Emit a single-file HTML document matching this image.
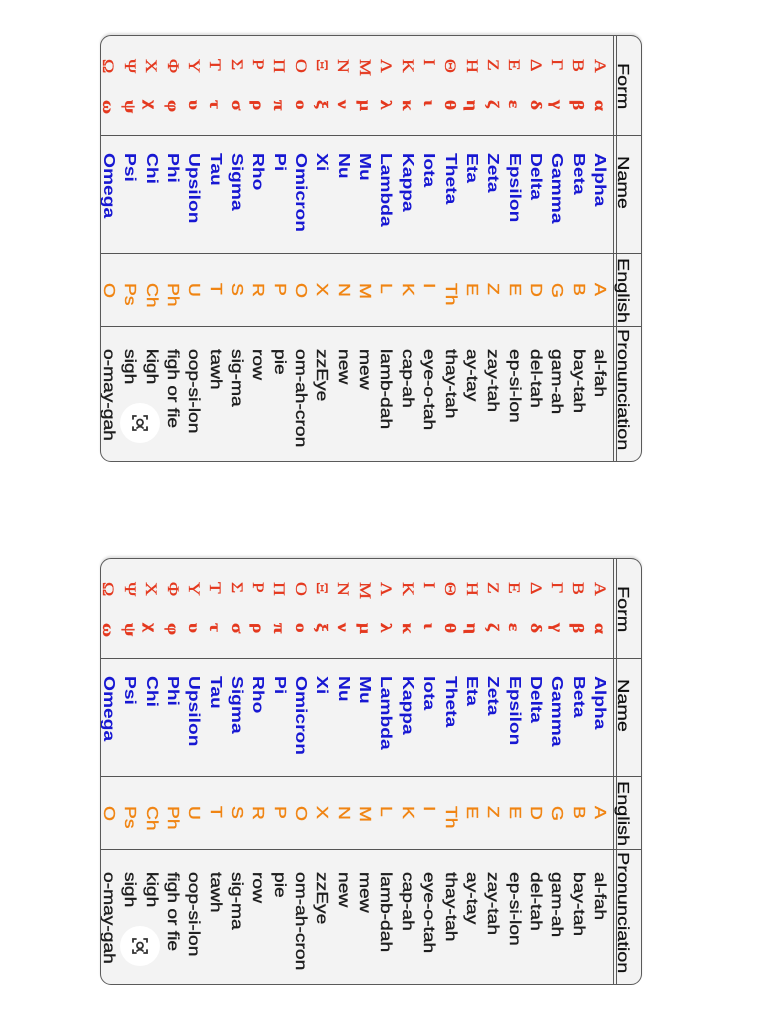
<!DOCTYPE html>
<html>
<head>
<meta charset="utf-8">
<style>
  html, body { margin:0; padding:0; background:#ffffff; }
  body { width:768px; height:1024px; position:relative; overflow:hidden; }
  .card {
    position:absolute; left:0; top:0;
    width:427px; height:542px;
    transform-origin:0 0;
    background:#f3f3f3;
    border:1.5px solid #5a5a5a;
    border-radius:11px;
    box-sizing:border-box;
    box-shadow: -2px 0 2px rgba(0,0,0,0.12);
    overflow:hidden;
    font-family:"Liberation Sans", Arial, sans-serif;
  }
  .c1 { transform: translate(642px,35px) rotate(90deg); }
  .c2 { transform: translate(642px,558px) rotate(90deg); }
  .hline1 { position:absolute; left:0; right:0; top:24px; height:1.2px; background:#5a5a5a; }
  .hline2 { position:absolute; left:0; right:0; top:27.2px; height:1.2px; background:#5a5a5a; }
  .vline { position:absolute; top:0; bottom:0; width:1.4px; background:#555; }
  .hd {
    position:absolute; top:10.5px; font-size:16px; line-height:16px; color:#111;
    white-space:pre; transform:scaleX(1.24); transform-origin:0 0;
    -webkit-text-stroke:0.25px #111;
  }
  .col {
    position:absolute; top:30.95px; font-size:15.5px; line-height:21.36px;
    white-space:pre; transform:scaleX(1.24); transform-origin:0 0;
  }
  .gk {
    position:absolute; top:31.25px; font-size:15.5px; line-height:21.36px;
    white-space:pre; color:#e4381e;
    font-family:"Liberation Serif", "DejaVu Serif", serif;
    transform:scaleX(1.24); transform-origin:0 0;
    -webkit-text-stroke:0.3px #e4381e;
  }
  .name { color:#1717d2; font-weight:bold; }
  .eng { color:#f08412; -webkit-text-stroke:0.35px #f08412; }
  .pron { color:#1e1e1e; -webkit-text-stroke:0.35px #1e1e1e; }
  .mag {
    position:absolute; width:40px; height:40px; border-radius:50%;
    background:#ffffff;
  }
</style>
</head>
<body>

<div class="card c1">
  <div class="hline1"></div><div class="hline2"></div>
  <div class="vline" style="left:98.5px"></div>
  <div class="vline" style="left:216.5px"></div>
  <div class="vline" style="left:289.5px"></div>
  <div class="hd" style="left:27px">Form</div>
  <div class="hd" style="left:120px">Name</div>
  <div class="hd" style="left:222px">English</div>
  <div class="hd" style="left:293px">Pronunciation</div>
  <div class="gk" style="left:23px">Α<br>Β<br>Γ<br>Δ<br>Ε<br>Ζ<br>Η<br>Θ<br>Ι<br>Κ<br>Λ<br>Μ<br>Ν<br>Ξ<br>Ο<br>Π<br>Ρ<br>Σ<br>Τ<br>Υ<br>Φ<br>Χ<br>Ψ<br>Ω</div>
  <div class="gk" style="left:64px;font-weight:bold">α<br>β<br>γ<br>δ<br>ε<br>ζ<br>η<br>θ<br>ι<br>κ<br>λ<br>μ<br>ν<br>ξ<br>ο<br>π<br>ρ<br>σ<br>τ<br>υ<br>φ<br>χ<br>ψ<br>ω</div>
  <div class="col name" style="left:117px">Alpha<br>Beta<br>Gamma<br>Delta<br>Epsilon<br>Zeta<br>Eta<br>Theta<br>Iota<br>Kappa<br>Lambda<br>Mu<br>Nu<br>Xi<br>Omicron<br>Pi<br>Rho<br>Sigma<br>Tau<br>Upsilon<br>Phi<br>Chi<br>Psi<br>Omega</div>
  <div class="col eng" style="left:247px">A<br>B<br>G<br>D<br>E<br>Z<br>E<br>Th<br>I<br>K<br>L<br>M<br>N<br>X<br>O<br>P<br>R<br>S<br>T<br>U<br>Ph<br>Ch<br>Ps<br>O</div>
  <div class="col pron" style="left:313px">al-fah<br>bay-tah<br>gam-ah<br>del-tah<br>ep-si-lon<br>zay-tah<br>ay-tay<br>thay-tah<br>eye-o-tah<br>cap-ah<br>lamb-dah<br>mew<br>new<br>zzEye<br>om-ah-cron<br>pie<br>row<br>sig-ma<br>tawh<br>oop-si-lon<br>figh or fie<br>kigh<br>sigh<br>o-may-gah</div>
</div>

<div class="card c2">
  <div class="hline1"></div><div class="hline2"></div>
  <div class="vline" style="left:98.5px"></div>
  <div class="vline" style="left:216.5px"></div>
  <div class="vline" style="left:289.5px"></div>
  <div class="hd" style="left:27px">Form</div>
  <div class="hd" style="left:120px">Name</div>
  <div class="hd" style="left:222px">English</div>
  <div class="hd" style="left:293px">Pronunciation</div>
  <div class="gk" style="left:23px">Α<br>Β<br>Γ<br>Δ<br>Ε<br>Ζ<br>Η<br>Θ<br>Ι<br>Κ<br>Λ<br>Μ<br>Ν<br>Ξ<br>Ο<br>Π<br>Ρ<br>Σ<br>Τ<br>Υ<br>Φ<br>Χ<br>Ψ<br>Ω</div>
  <div class="gk" style="left:64px;font-weight:bold">α<br>β<br>γ<br>δ<br>ε<br>ζ<br>η<br>θ<br>ι<br>κ<br>λ<br>μ<br>ν<br>ξ<br>ο<br>π<br>ρ<br>σ<br>τ<br>υ<br>φ<br>χ<br>ψ<br>ω</div>
  <div class="col name" style="left:117px">Alpha<br>Beta<br>Gamma<br>Delta<br>Epsilon<br>Zeta<br>Eta<br>Theta<br>Iota<br>Kappa<br>Lambda<br>Mu<br>Nu<br>Xi<br>Omicron<br>Pi<br>Rho<br>Sigma<br>Tau<br>Upsilon<br>Phi<br>Chi<br>Psi<br>Omega</div>
  <div class="col eng" style="left:247px">A<br>B<br>G<br>D<br>E<br>Z<br>E<br>Th<br>I<br>K<br>L<br>M<br>N<br>X<br>O<br>P<br>R<br>S<br>T<br>U<br>Ph<br>Ch<br>Ps<br>O</div>
  <div class="col pron" style="left:313px">al-fah<br>bay-tah<br>gam-ah<br>del-tah<br>ep-si-lon<br>zay-tah<br>ay-tay<br>thay-tah<br>eye-o-tah<br>cap-ah<br>lamb-dah<br>mew<br>new<br>zzEye<br>om-ah-cron<br>pie<br>row<br>sig-ma<br>tawh<br>oop-si-lon<br>figh or fie<br>kigh<br>sigh<br>o-may-gah</div>
</div>

<div class="mag" style="left:120px;top:403px">
  <svg width="40" height="40" viewBox="0 0 40 40">
    <g fill="none" stroke="#333" stroke-width="1.8" stroke-linecap="round">
      <path d="M13 16 V13 H16"/><path d="M24 13 H27 V16"/>
      <path d="M27 24 V27 H24"/><path d="M16 27 H13 V24"/>
      <circle cx="20" cy="19.5" r="3"/>
      <path d="M17 25 Q20 22 23 25"/>
    </g>
  </svg>
</div>
<div class="mag" style="left:120px;top:926px">
  <svg width="40" height="40" viewBox="0 0 40 40">
    <g fill="none" stroke="#333" stroke-width="1.8" stroke-linecap="round">
      <path d="M13 16 V13 H16"/><path d="M24 13 H27 V16"/>
      <path d="M27 24 V27 H24"/><path d="M16 27 H13 V24"/>
      <circle cx="20" cy="19.5" r="3"/>
      <path d="M17 25 Q20 22 23 25"/>
    </g>
  </svg>
</div>

</body>
</html>
